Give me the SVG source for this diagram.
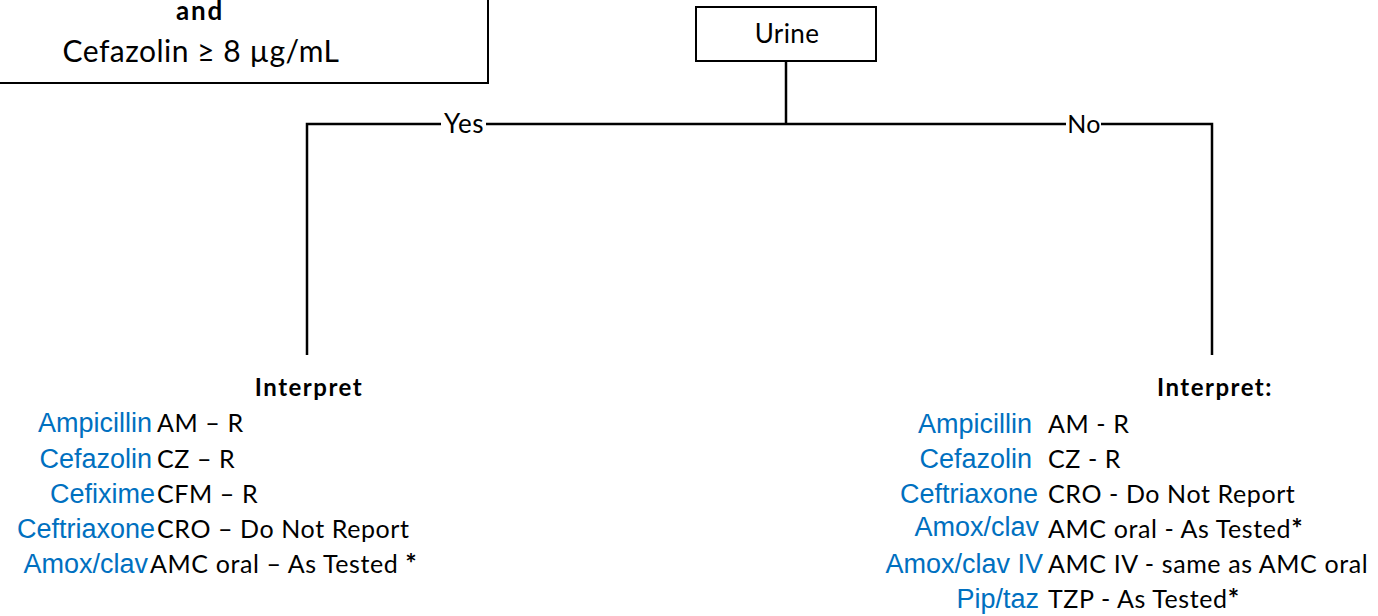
<svg xmlns="http://www.w3.org/2000/svg" width="1378" height="616" viewBox="0 0 1378 616">
  <style>
    .box { fill: #ffffff; stroke: #000000; stroke-width: 2; }
    .wire { fill: none; stroke: #000000; stroke-width: 2.5; }
    .cal { font-family: Lato, "Liberation Sans", sans-serif; fill: #000000; }
    .head { font-family: Lato, "Liberation Sans", sans-serif; font-weight: bold; font-size: 24px; letter-spacing: 1.5px; fill: #000000; }
    .drug { font-family: "Liberation Sans", Arial, sans-serif; font-size: 27px; fill: #0070C0; text-anchor: end; }
    .res { font-family: Lato, "Liberation Sans", sans-serif; font-size: 25px; letter-spacing: 0.6px; fill: #000000; }
    .star { font-weight: bold; font-size: 27px; }
  </style>

  <!-- condition box, clipped by the top-left corner -->
  <g id="condition">
    <rect class="box" x="-5" y="-5" width="493" height="88"/>
    <text class="cal" x="200" y="20" font-size="26" font-weight="bold" letter-spacing="1.8" text-anchor="middle">and</text>
    <text class="cal" x="201" y="62" font-size="30" letter-spacing="0.5" text-anchor="middle">Cefazolin ≥ 8 µg/mL</text>
  </g>

  <!-- specimen node -->
  <g id="urine">
    <rect class="box" x="696" y="7" width="180" height="54"/>
    <text class="cal" x="787" y="43" font-size="26" letter-spacing="0.4" text-anchor="middle">Urine</text>
  </g>

  <!-- connectors -->
  <g id="connectors">
    <path class="wire" d="M786 61 V124"/>
    <path class="wire" d="M307 355 V124 H441 M486 124 H1066 M1101 124 H1212 V355"/>
    <text class="cal" x="464" y="133" font-size="26" letter-spacing="0.6" text-anchor="middle">Yes</text>
    <text class="cal" x="1084" y="133" font-size="25" letter-spacing="0.3" text-anchor="middle">No</text>
  </g>

  <!-- result when condition is met -->
  <g id="interpret-yes">
    <text class="head" x="309" y="396" text-anchor="middle">Interpret</text>
    <text class="drug" x="152" y="432">Ampicillin</text>
    <text class="res" x="157" y="432">AM – R</text>
    <text class="drug" x="152" y="468">Cefazolin</text>
    <text class="res" x="157" y="468">CZ – R</text>
    <text class="drug" x="155" y="503">Cefixime</text>
    <text class="res" x="157" y="503">CFM – R</text>
    <text class="drug" x="155" y="538">Ceftriaxone</text>
    <text class="res" x="157" y="538">CRO – Do Not Report</text>
    <text class="drug" x="148" y="573">Amox/clav</text>
    <text class="res" x="150" y="573">AMC oral – As Tested <tspan class="star">*</tspan></text>
  </g>

  <!-- result when condition is not met -->
  <g id="interpret-no">
    <text class="head" x="1215" y="396" text-anchor="middle">Interpret:</text>
    <text class="drug" x="1032" y="433">Ampicillin</text>
    <text class="res" x="1048" y="433">AM - R</text>
    <text class="drug" x="1032" y="468">Cefazolin</text>
    <text class="res" x="1048" y="468">CZ - R</text>
    <text class="drug" x="1038" y="503">Ceftriaxone</text>
    <text class="res" x="1048" y="503">CRO - Do Not Report</text>
    <text class="drug" x="1039" y="536">Amox/clav</text>
    <text class="res" x="1048" y="538">AMC oral - As Tested<tspan class="star">*</tspan></text>
    <text class="drug" x="1043" y="573">Amox/clav IV</text>
    <text class="res" x="1048" y="573">AMC IV - same as AMC oral</text>
    <text class="drug" x="1039" y="608">Pip/taz</text>
    <text class="res" x="1048" y="608">TZP - As Tested<tspan class="star">*</tspan></text>
  </g>
</svg>
